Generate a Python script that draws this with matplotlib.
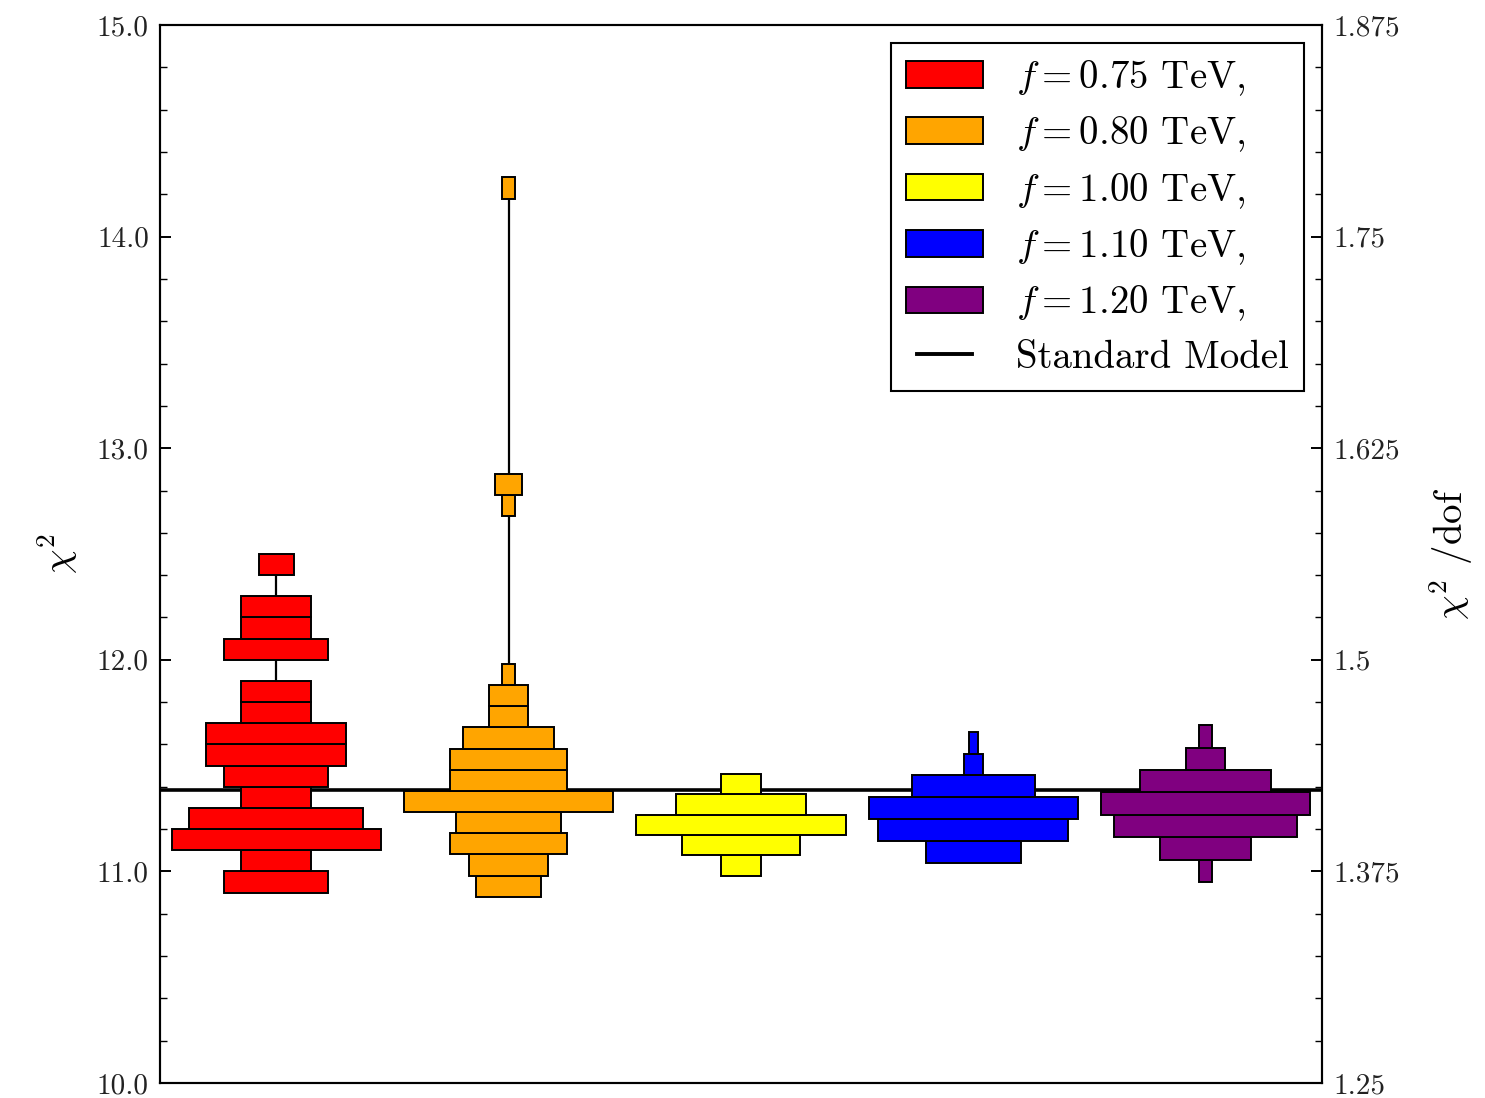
import numpy as np
import matplotlib
matplotlib.use("Agg")
import matplotlib.pyplot as plt
from matplotlib.patches import Patch
from matplotlib.lines import Line2D
from matplotlib.legend_handler import HandlerLine2D
from matplotlib.ticker import MultipleLocator, FixedLocator, FixedFormatter

plt.rcParams["font.family"] = "cmr10"
plt.rcParams["mathtext.fontset"] = "cm"
plt.rcParams["axes.formatter.use_mathtext"] = True

# --- data -------------------------------------------------------------
f_values = ["0.75", "0.80", "1.00", "1.10", "1.20"]
colors = ["#ff0000", "#ffa500", "#ffff00", "#0000ff", "#800080"]

# histogram range (lowest edge, highest edge) and counts, bottom to top
range_075 = (10.90, 12.50)
counts_075 = [3, 2, 6, 5, 2, 3, 4, 4, 2, 2, 0, 3, 2, 2, 0, 1]

range_080 = (10.88, 14.28)
counts_080 = [5, 6, 9, 8, 16, 9, 9, 7, 3, 3, 1,
              0, 0, 0, 0, 0, 0, 0,
              1, 2,
              0, 0, 0, 0, 0, 0, 0, 0, 0, 0, 0, 0, 0,
              1]

range_100 = (10.98, 11.46)
counts_100 = [3, 9, 16, 10, 3]

range_110 = (11.04, 11.66)
counts_110 = [10, 20, 22, 13, 2, 1]

range_120 = (10.95, 11.69)
counts_120 = [1, 7, 14, 16, 10, 3, 1]

chi2_sm = 11.384
n_dof = 8

left_ticks = [10.0, 11.0, 12.0, 13.0, 14.0, 15.0]
right_ticks = [1.25, 1.375, 1.5, 1.625, 1.75, 1.875]
right_tick_labels = ["1.25", "1.375", "1.5", "1.625", "1.75", "1.875"]

ranges = [range_075, range_080, range_100, range_110, range_120]
counts_all = [counts_075, counts_080, counts_100, counts_110, counts_120]


class ShortLineHandler(HandlerLine2D):
    """Legend line that is a bit shorter than the patch handles."""

    def get_xdata(self, legend, xdescent, ydescent, width, height, fontsize):
        pad = 0.14 * width
        xdata = np.array([-xdescent + pad, -xdescent + width - pad])
        return xdata, xdata.mean(keepdims=True)


# --- figure -----------------------------------------------------------
fig = plt.figure(figsize=(14.85, 10.98), dpi=100)
ax = fig.add_axes([0.1077, 0.0137, 0.7825, 0.9635])

max_width = 0.9
for i, (rng, counts, col) in enumerate(zip(ranges, counts_all, colors)):
    counts = np.asarray(counts, dtype=float)
    edges = np.linspace(rng[0], rng[1], len(counts) + 1)
    centers = 0.5 * (edges[:-1] + edges[1:])
    heights = np.diff(edges)
    widths = max_width * counts / counts.max()
    ax.vlines(i, rng[0], rng[1], color="black", lw=1.6, zorder=2)
    m = counts > 0
    ax.barh(centers[m], widths[m], height=heights[m], left=i - widths[m] / 2,
            color=col, edgecolor="black", linewidth=1.4, zorder=3)

ax.axhline(chi2_sm, color="black", lw=2.6, zorder=1)

ax.set_xlim(-0.5, 4.5)
ax.set_ylim(10, 15)
ax.set_xticks([])
ax.yaxis.set_major_locator(FixedLocator(left_ticks))
ax.yaxis.set_major_formatter(FixedFormatter(["%.1f" % t for t in left_ticks]))
ax.yaxis.set_minor_locator(MultipleLocator(0.2))
ax.tick_params(axis="y", which="both", direction="in", labelsize=21,
               labelcolor="#222222", pad=8)
ax.tick_params(axis="y", which="major", length=8, width=1.4)
ax.tick_params(axis="y", which="minor", length=5, width=1.0)
ax.set_ylabel(r"$\chi^2$", fontsize=28, labelpad=12)
for s in ax.spines.values():
    s.set_linewidth(1.5)

ax2 = ax.twinx()
ax2.set_ylim(10 / n_dof, 15 / n_dof)
ax2.yaxis.set_major_locator(FixedLocator(right_ticks))
ax2.yaxis.set_major_formatter(FixedFormatter(right_tick_labels))
ax2.yaxis.set_minor_locator(MultipleLocator(0.025))
ax2.tick_params(axis="y", which="both", direction="in", labelsize=21,
                labelcolor="#222222", pad=8)
ax2.tick_params(axis="y", which="major", length=8, width=1.4)
ax2.tick_params(axis="y", which="minor", length=5, width=1.0)
ax2.set_ylabel(r"$\chi^2$ /dof", fontsize=28, labelpad=20)
for s in ax2.spines.values():
    s.set_linewidth(1.5)

handles = [Patch(facecolor=c, edgecolor="black", linewidth=1.4) for c in colors]
labels = [r"$f=%s$ TeV," % v for v in f_values]
sm_handle = Line2D([], [], color="black", lw=2.8)
handles.append(sm_handle)
labels.append("Standard Model")
leg = ax2.legend(handles, labels, loc="upper right", fontsize=28,
                 frameon=True, fancybox=False, framealpha=1,
                 edgecolor="black", borderaxespad=0.45, labelspacing=0.43,
                 handlelength=1.98, handleheight=0.67, handletextpad=0.85,
                 borderpad=0.4,
                 handler_map={sm_handle: ShortLineHandler()})
leg.get_frame().set_linewidth(1.5)

fig.savefig("out.png", dpi=100)
